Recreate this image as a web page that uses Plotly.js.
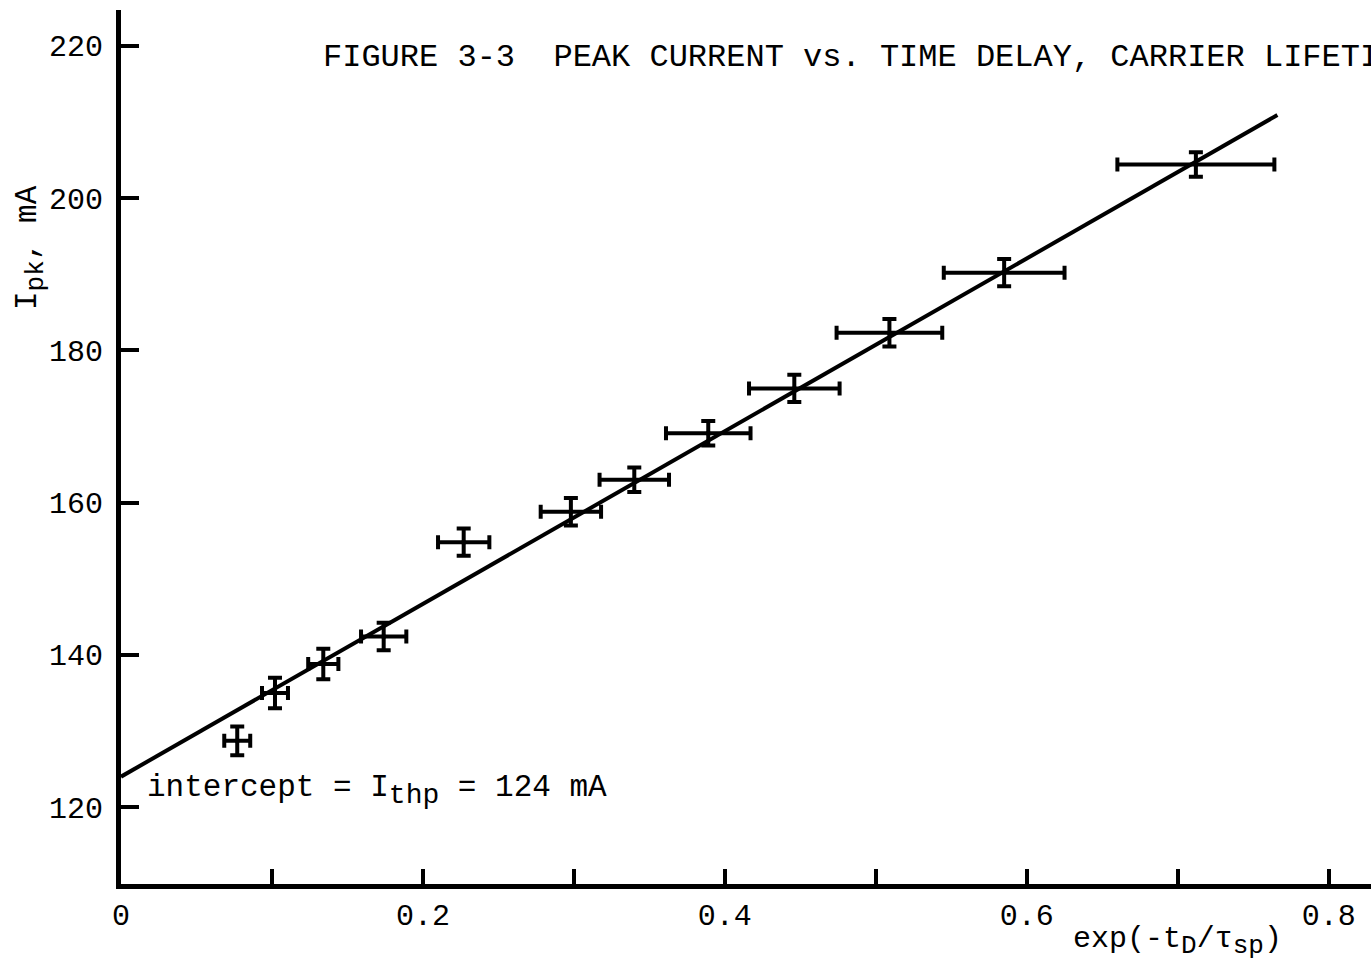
<!DOCTYPE html>
<html>
<head>
<meta charset="utf-8">
<script src="https://cdn.plot.ly/plotly-3.0.1.min.js"></script>
<style>html,body{margin:0;padding:0;background:#fff;}#chart{width:1371px;height:970px;}</style>
</head>
<body>
<div id="chart"></div>
<script>
// Measured points: exp(-tD/tau_sp) vs peak current (mA)
const expDelay = [0.077, 0.102, 0.134, 0.174, 0.227, 0.298, 0.340, 0.389, 0.446, 0.509, 0.585, 0.712];
const peakCurrent = [128.7, 135.0, 138.8, 142.4, 154.8, 158.8, 163.0, 169.1, 175.0, 182.3, 190.2, 204.4];
const expDelayErr = [0.0086, 0.0086, 0.010, 0.015, 0.017, 0.020, 0.023, 0.028, 0.030, 0.035, 0.040, 0.052];
const peakCurrentErr = [1.9, 2.0, 2.0, 1.8, 1.8, 1.8, 1.6, 1.6, 1.8, 1.8, 1.8, 1.6];
// Fitted line end points
const fitX = [0, 0.766];
const fitY = [124, 210.9];
const xTickVals = [0, 0.2, 0.4, 0.6, 0.8];
const xTickText = ["0", "0.2", "0.4", "0.6", "0.8"];
const yTickVals = [120, 140, 160, 180, 200, 220];
const yTickText = ["120", "140", "160", "180", "200", "220"];

const mono = "Liberation Mono, Courier New, monospace";

const traces = [
  {
    x: fitX, y: fitY, type: "scatter", mode: "lines",
    line: {color: "#000", width: 4}, hoverinfo: "skip", showlegend: false
  },
  {
    x: expDelay, y: peakCurrent, type: "scatter", mode: "markers",
    marker: {color: "#000", size: 5},
    error_x: {type: "data", array: expDelayErr, visible: true, color: "#000", thickness: 4, width: 7},
    error_y: {type: "data", array: peakCurrentErr, visible: true, color: "#000", thickness: 4, width: 7},
    showlegend: false
  }
];

const layout = {
  width: 1371, height: 970,
  margin: {l: 121, r: 0, t: 10, b: 86},
  paper_bgcolor: "#fff", plot_bgcolor: "#fff",
  font: {family: mono, color: "#000", size: 30},
  title: {
    text: "FIGURE 3-3  PEAK CURRENT vs. TIME DELAY, CARRIER LIFETIME",
    font: {family: mono, size: 32, color: "#000"},
    x: 323/1371, xref: "container", xanchor: "left",
    y: 1 - 55/970, yref: "container", yanchor: "middle"
  },
  xaxis: {
    range: [0, 0.828], showgrid: false, zeroline: false,
    showline: true, linecolor: "#000", linewidth: 5,
    tickmode: "array", tickvals: xTickVals, ticktext: xTickText,
    ticks: "inside", ticklen: 15, tickwidth: 4, tickcolor: "#000",
    ticklabelstandoff: 0,
    minor: {dtick: 0.1, tick0: 0, ticks: "inside", ticklen: 15, tickwidth: 4, tickcolor: "#000", showgrid: false},
    tickfont: {family: mono, size: 30, color: "#000"},
    title: {text: ""}
  },
  yaxis: {
    range: [109.9, 224.7], showgrid: false, zeroline: false,
    showline: true, linecolor: "#000", linewidth: 5,
    tickmode: "array", tickvals: yTickVals, ticktext: yTickText,
    ticks: "inside", ticklen: 18, tickwidth: 4, tickcolor: "#000",
    ticklabelstandoff: 7,
    tickfont: {family: mono, size: 30, color: "#000"},
    title: {text: ""}
  },
  annotations: [
    {
      text: "I<sub><span style='font-size:26px'>pk</span></sub>, mA", textangle: -90,
      xref: "paper", yref: "paper", x: (30-121)/1250, y: (884-248)/874,
      xanchor: "center", yanchor: "middle", showarrow: false,
      font: {family: mono, size: 31, color: "#000"}
    },
    {
      text: "exp(-t<sub><span style='font-size:26px'>D</span></sub>/τ<sub><span style='font-size:26px'>sp</span></sub>)",
      xref: "paper", yref: "paper", x: (1177-121)/1250, y: (884-942)/874,
      xanchor: "center", yanchor: "middle", showarrow: false,
      font: {family: mono, size: 30, color: "#000"}
    },
    {
      text: "intercept = I<sub><span style='font-size:28px'>thp</span></sub> = 124 mA",
      xref: "paper", yref: "paper", x: (145-121)/1250, y: (884-790)/874,
      xanchor: "left", yanchor: "middle", showarrow: false,
      font: {family: mono, size: 31, color: "#000"}
    }
  ]
};

Plotly.newPlot("chart", traces, layout, {displayModeBar: false, staticPlot: true});
</script>
</body>
</html>
